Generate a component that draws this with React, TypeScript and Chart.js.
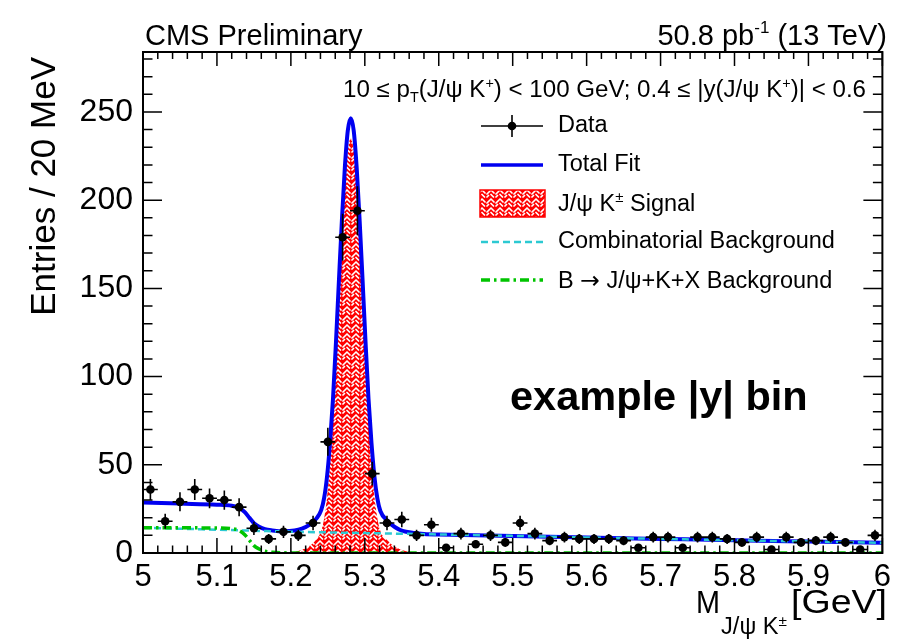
import React, { useEffect, useRef } from 'react';
import { Chart, registerables } from 'chart.js';

Chart.register(...registerables);

const FF = '"Liberation Sans", Arial, Helvetica, sans-serif';

// ---- data ----
const binCenters = [5.01, 5.03, 5.05, 5.07, 5.09, 5.11, 5.13, 5.15, 5.17, 5.19, 5.21, 5.23, 5.25, 5.27, 5.29, 5.31, 5.33, 5.35, 5.37, 5.39, 5.41, 5.43, 5.45, 5.47, 5.49, 5.51, 5.53, 5.55, 5.57, 5.59, 5.61, 5.63, 5.65, 5.67, 5.69, 5.71, 5.73, 5.75, 5.77, 5.79, 5.81, 5.83, 5.85, 5.87, 5.89, 5.91, 5.93, 5.95, 5.97, 5.99];
const counts = [36, 18, 29, 36, 31, 30, 26, 14, 8, 12, 10, 17, 63, 179, 194, 45, 17, 19, 10, 16, 3, 11, 5, 10, 6, 17, 11, 7, 9, 8, 8, 8, 7, 3, 9, 9, 3, 9, 9, 8, 6, 9, 2, 9, 6, 7, 9, 6, 2, 10];

const fitX = [5.0, 5.05, 5.1, 5.12, 5.13, 5.138, 5.144, 5.15, 5.157, 5.165, 5.175, 5.19, 5.205, 5.215, 5.225, 5.235, 5.241, 5.245, 5.249, 5.253, 5.257, 5.261, 5.265, 5.269, 5.273, 5.277, 5.281, 5.285, 5.289, 5.293, 5.297, 5.301, 5.305, 5.309, 5.313, 5.317, 5.321, 5.331, 5.341, 5.351, 5.366, 5.38, 5.4, 5.45, 5.5, 5.6, 5.7, 5.8, 5.9, 6.0];
const totalFit = [28.6, 28.0, 27.4, 26.8, 25.7, 23.0, 19.9, 16.9, 14.9, 13.5, 12.8, 12.3, 12.7, 13.8, 15.9, 19.8, 24.3, 31.2, 43.7, 62.7, 87.7, 119.6, 154.6, 188.6, 218.6, 239.5, 246.5, 239.4, 218.4, 188.4, 154.4, 119.4, 87.4, 62.4, 43.3, 30.8, 23.8, 18.1, 14.6, 12.5, 11.4, 10.8, 10.5, 10.1, 9.7, 8.8, 8.0, 7.2, 6.5, 5.8];

const sigX = [5.19, 5.205, 5.215, 5.225, 5.235, 5.241, 5.245, 5.249, 5.253, 5.257, 5.261, 5.265, 5.269, 5.273, 5.277, 5.281, 5.285, 5.289, 5.293, 5.297, 5.301, 5.305, 5.309, 5.313, 5.317, 5.321, 5.331, 5.341, 5.351, 5.361, 5.375];
const signal = [0, 0.6, 1.8, 4, 8, 12.5, 19.5, 32, 51, 76, 108, 143, 177, 207, 228, 235, 228, 207, 177, 143, 108, 76, 51, 32, 19.5, 12.5, 7, 3.5, 1.5, 0.6, 0];

const combX = [5.0, 5.1, 5.2, 5.3, 5.4, 5.5, 5.6, 5.7, 5.8, 5.9, 6.0];
const combBkg = [14.3, 13.2, 12.1, 11.3, 10.5, 9.7, 8.8, 8.0, 7.2, 6.5, 5.8];

const jkxX = [5.0, 5.05, 5.1, 5.12, 5.13, 5.138, 5.144, 5.15, 5.157, 5.165, 5.175, 5.19, 5.21, 5.3, 6.0];
const jkxBkg = [14.3, 14.25, 14.2, 13.8, 12.8, 10.2, 7.2, 4.2, 2.3, 1.0, 0.4, 0.1, 0, 0, 0];

const X_MIN = 5;
const X_MAX = 6;
const Y_MAX = 284;

const BLUE = '#0000f0';
const CYAN = '#2cc9d2';
const GREEN = '#00c400';
const RED = '#ff0000';

type Part = { t: string; size: number; dy?: number; bold?: boolean; family?: string };

function drawParts(ctx: CanvasRenderingContext2D, parts: Part[], x: number, y: number, align: 'left' | 'right', targetWidth?: number) {
  ctx.save();
  ctx.textBaseline = 'alphabetic';
  ctx.textAlign = 'left';
  const fontOf = (p: Part) => `${p.bold ? 'bold ' : ''}${p.size}px ${p.family || FF}`;
  const widths = parts.map((p) => {
    ctx.font = fontOf(p);
    return ctx.measureText(p.t).width;
  });
  const total = widths.reduce((a, b) => a + b, 0);
  const sx = targetWidth ? targetWidth / total : 1;
  const startX = align === 'right' ? x - total * sx : x;
  ctx.translate(startX, y);
  ctx.scale(sx, 1);
  let cx = 0;
  parts.forEach((p, i) => {
    ctx.font = fontOf(p);
    ctx.fillText(p.t, cx, p.dy || 0);
    cx += widths[i];
  });
  ctx.restore();
}

function makeHatch(): CanvasPattern | string {
  const c = document.createElement('canvas');
  c.width = 9;
  c.height = 9;
  const g = c.getContext('2d');
  if (!g) return RED;
  g.fillStyle = RED;
  g.fillRect(0, 0, 9, 9);
  g.strokeStyle = '#ffffff';
  g.lineWidth = 1.7;
  g.lineCap = 'round';
  g.beginPath();
  g.moveTo(1, 5); g.lineTo(4, 2);
  g.moveTo(5, 1); g.lineTo(8, 4);
  g.moveTo(5, 5.5); g.lineTo(7.5, 8);
  g.moveTo(1, 8); g.lineTo(2.5, 6.5);
  g.stroke();
  const pat = g.createPattern(c, 'repeat');
  return pat || RED;
}

const framePlugin = {
  id: 'rootFrame',
  afterDatasetsDraw(chart: any) {
    const { ctx, chartArea, scales } = chart;
    const xs = scales.x;
    const ys = scales.y;
    ctx.save();
    // error bars
    ctx.strokeStyle = '#000';
    ctx.lineWidth = 1.6;
    ctx.beginPath();
    binCenters.forEach((bx, i) => {
      const n = counts[i];
      const e = Math.sqrt(n);
      const px = xs.getPixelForValue(bx);
      const py = ys.getPixelForValue(n);
      const pl = xs.getPixelForValue(bx - 0.01);
      const pr = xs.getPixelForValue(bx + 0.01);
      const pt = ys.getPixelForValue(n + e);
      const pb = ys.getPixelForValue(Math.max(0, n - e));
      ctx.moveTo(pl, py);
      ctx.lineTo(pr, py);
      ctx.moveTo(px, pt);
      ctx.lineTo(px, pb);
    });
    ctx.stroke();

    // frame
    const { left, right, top, bottom } = chartArea;
    ctx.lineWidth = 2;
    ctx.strokeRect(left, top, right - left, bottom - top);
    ctx.lineWidth = 1.5;
    ctx.beginPath();
    for (let i = 0; i <= 50; i++) {
      const v = X_MIN + i * 0.02;
      const px = xs.getPixelForValue(v);
      const len = i % 5 === 0 ? 15 : 7.5;
      ctx.moveTo(px, bottom);
      ctx.lineTo(px, bottom - len);
      const lenT = i % 5 === 0 ? 14 : 7;
      ctx.moveTo(px, top);
      ctx.lineTo(px, top + lenT);
    }
    for (let i = 0; i <= 28; i++) {
      const v = i * 10;
      const py = ys.getPixelForValue(v);
      const len = i % 5 === 0 ? 19 : 9.5;
      ctx.moveTo(left, py);
      ctx.lineTo(left + len, py);
      ctx.moveTo(right, py);
      ctx.lineTo(right - len, py);
    }
    ctx.stroke();
    ctx.restore();
  },
  afterDraw(chart: any) {
    const { ctx } = chart;
    const hatch = (chart as any).$hatch;
    ctx.save();
    ctx.fillStyle = '#000';

    // header texts
    drawParts(ctx, [{ t: 'CMS Preliminary', size: 29 }], 145, 45, 'left');
    drawParts(ctx, [
      { t: '50.8 pb', size: 29 },
      { t: '-1', size: 17, dy: -12 },
      { t: ' (13 TeV)', size: 29 },
    ], 887, 45, 'right');

    // selection text
    drawParts(ctx, [
      { t: '10 \u2264 p', size: 23.5 },
      { t: 'T', size: 14, dy: 5 },
      { t: '(J/\u03C8 K', size: 23.5 },
      { t: '+', size: 14, dy: -9 },
      { t: ') < 100 GeV; 0.4 \u2264 |y(J/\u03C8 K', size: 23.5 },
      { t: '+', size: 14, dy: -9 },
      { t: ')| < 0.6', size: 23.5 },
    ], 866, 97, 'right', 523);

    // big label
    drawParts(ctx, [{ t: 'example |y| bin', size: 41.5, bold: true }], 510, 410, 'left');

    // y-axis title
    ctx.save();
    ctx.translate(45, 57);
    ctx.rotate(-Math.PI / 2);
    ctx.textAlign = 'right';
    ctx.textBaseline = 'middle';
    ctx.font = `35px ${FF}`;
    ctx.fillText('Entries / 20 MeV', 0, 0);
    ctx.restore();

    // x-axis title
    drawParts(ctx, [{ t: 'M', size: 32 }], 720, 613, 'right', 24);
    drawParts(ctx, [
      { t: 'J/\u03C8 K', size: 23 },
      { t: '\u00B1', size: 15, dy: -8 },
    ], 721, 634, 'left', 66);
    drawParts(ctx, [{ t: '[GeV]', size: 34 }], 887, 613, 'right', 96);

    // legend
    const lx0 = 481;
    const lx1 = 543;
    const tx = 558;
    const rows = [126, 165, 203, 242, 280];
    ctx.font = `23.5px ${FF}`;
    ctx.textBaseline = 'middle';
    ctx.textAlign = 'left';

    // Data
    ctx.strokeStyle = '#000';
    ctx.lineWidth = 1.6;
    ctx.beginPath();
    ctx.moveTo(lx0, rows[0]);
    ctx.lineTo(lx1, rows[0]);
    ctx.moveTo(512, rows[0] - 11);
    ctx.lineTo(512, rows[0] + 11);
    ctx.stroke();
    ctx.beginPath();
    ctx.arc(512, rows[0], 4.3, 0, Math.PI * 2);
    ctx.fill();
    ctx.fillText('Data', tx, rows[0]);

    // Total fit
    ctx.strokeStyle = BLUE;
    ctx.lineWidth = 3.5;
    ctx.beginPath();
    ctx.moveTo(lx0, rows[1]);
    ctx.lineTo(lx1, rows[1]);
    ctx.stroke();
    ctx.fillText('Total Fit', tx, rows[1]);

    // Signal
    ctx.fillStyle = hatch || RED;
    ctx.fillRect(480, rows[2] - 13, 65, 27);
    ctx.strokeStyle = RED;
    ctx.lineWidth = 1.5;
    ctx.strokeRect(480, rows[2] - 13, 65, 27);
    ctx.fillStyle = '#000';
    drawParts(ctx, [
      { t: 'J/\u03C8 K', size: 23.5 },
      { t: '\u00B1', size: 15, dy: -9 },
      { t: ' Signal', size: 23.5 },
    ], tx, rows[2] + 8, 'left');

    // Combinatorial
    ctx.textBaseline = 'middle';
    ctx.font = `23.5px ${FF}`;
    ctx.strokeStyle = CYAN;
    ctx.lineWidth = 2.5;
    ctx.setLineDash([7, 4]);
    ctx.beginPath();
    ctx.moveTo(lx0, rows[3]);
    ctx.lineTo(lx1, rows[3]);
    ctx.stroke();
    ctx.fillText('Combinatorial Background', tx, rows[3]);

    // B -> J/psi K X
    ctx.strokeStyle = GREEN;
    ctx.lineWidth = 3.5;
    ctx.setLineDash([9, 4, 2.5, 4]);
    ctx.beginPath();
    ctx.moveTo(lx0, rows[4]);
    ctx.lineTo(lx1, rows[4]);
    ctx.stroke();
    ctx.setLineDash([]);
    drawParts(ctx, [
      { t: 'B ', size: 23.5 },
      { t: '\u2192', size: 23.5, family: '"DejaVu Sans", sans-serif' },
      { t: ' J/\u03C8+K+X Background', size: 23.5 },
    ], tx, rows[4] + 8, 'left');

    ctx.restore();
  },
};

export default function App() {
  const canvasRef = useRef<HTMLCanvasElement | null>(null);

  useEffect(() => {
    const canvas = canvasRef.current;
    if (!canvas) return;
    const hatch = makeHatch();

    const pts = (xs: number[], ys: number[]) => xs.map((x, i) => ({ x, y: ys[i] }));

    const chart = new Chart(canvas, {
      type: 'line',
      data: {
        datasets: [
          {
            label: 'Data',
            data: pts(binCenters, counts),
            showLine: false,
            pointRadius: 4.3,
            pointBackgroundColor: '#000',
            pointBorderWidth: 0,
            borderColor: '#000',
            order: 0,
          } as any,
          {
            label: 'B -> J/psi+K+X Background',
            data: pts(jkxX, jkxBkg),
            borderColor: GREEN,
            borderWidth: 3.5,
            borderDash: [9, 4, 2.5, 4],
            pointRadius: 0,
            cubicInterpolationMode: 'monotone',
            fill: false,
            order: 1,
          },
          {
            label: 'Combinatorial Background',
            data: pts(combX, combBkg),
            borderColor: CYAN,
            borderWidth: 2.5,
            borderDash: [7, 4],
            pointRadius: 0,
            cubicInterpolationMode: 'monotone',
            fill: false,
            order: 2,
          },
          {
            label: 'Total Fit',
            data: pts(fitX, totalFit),
            borderColor: BLUE,
            borderWidth: 4,
            pointRadius: 0,
            cubicInterpolationMode: 'monotone',
            fill: false,
            order: 3,
          },
          {
            label: 'Signal',
            data: pts(sigX, signal),
            borderColor: 'rgba(0,0,0,0)',
            borderWidth: 0,
            backgroundColor: hatch as any,
            pointRadius: 0,
            cubicInterpolationMode: 'monotone',
            fill: 'origin',
            order: 4,
          },
        ],
      },
      options: {
        animation: false,
        responsive: false,
        devicePixelRatio: 1,
        events: [],
        layout: { padding: { top: 52, right: 10, left: 0, bottom: 0 } },
        plugins: {
          legend: { display: false },
          tooltip: { enabled: false },
          title: { display: false },
        },
        scales: {
          x: {
            type: 'linear',
            min: X_MIN,
            max: X_MAX,
            grid: { display: false, drawTicks: false },
            border: { display: false },
            ticks: {
              stepSize: 0.1,
              autoSkip: false,
              maxRotation: 0,
              minRotation: 0,
              padding: 6,
              color: '#000',
              font: { family: FF, size: 31, lineHeight: 1.2 },
              callback: (v: any) => String(Math.round(Number(v) * 10) / 10),
            },
            afterFit: (s: any) => {
              s.height = 86;
            },
          },
          y: {
            type: 'linear',
            min: 0,
            max: Y_MAX,
            grid: { display: false, drawTicks: false },
            border: { display: false },
            ticks: {
              stepSize: 50,
              includeBounds: false,
              padding: 10,
              color: '#000',
              font: { family: FF, size: 32, lineHeight: 1.2 },
              callback: (v: any) => (Number(v) % 50 === 0 ? String(v) : ''),
            },
            afterFit: (s: any) => {
              s.width = 143;
            },
          },
        },
      },
      plugins: [framePlugin],
    });
    (chart as any).$hatch = hatch;
    chart.draw();

    return () => {
      chart.destroy();
    };
  }, []);

  return (
    <div style={{ position: 'absolute', left: 0, top: 0, width: 897, height: 639, background: '#fff' }}>
      <canvas ref={canvasRef} width={897} height={639} style={{ width: 897, height: 639, display: 'block' }} />
    </div>
  );
}
